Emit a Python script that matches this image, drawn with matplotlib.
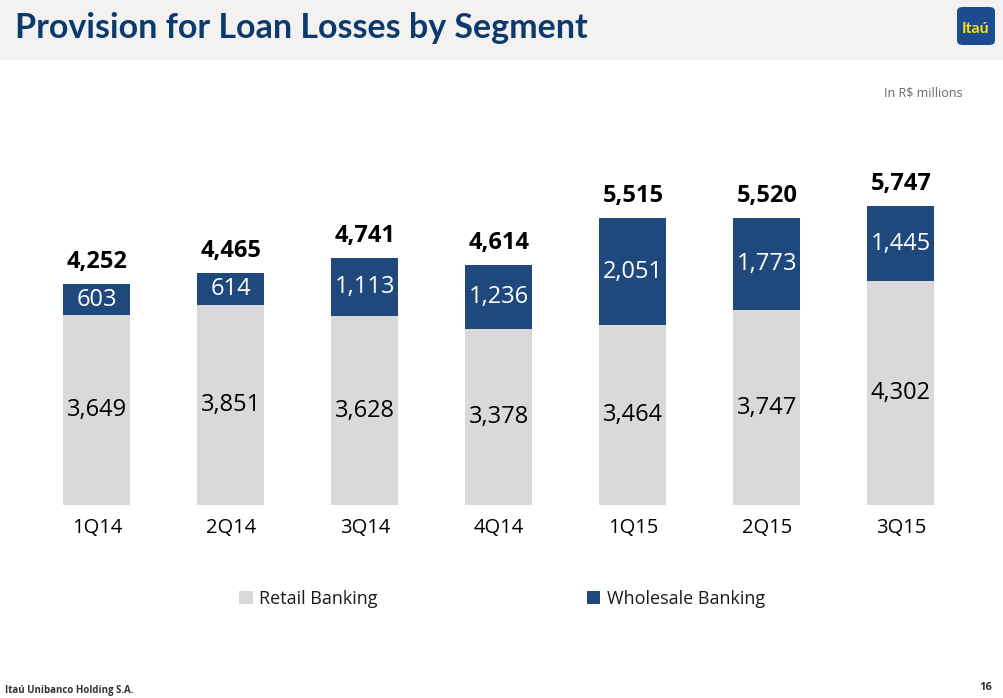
import matplotlib.pyplot as plt
from matplotlib.patches import FancyBboxPatch, Rectangle
import numpy as np

quarters = ["1Q14", "2Q14", "3Q14", "4Q14", "1Q15", "2Q15", "3Q15"]
retail = [3649, 3851, 3628, 3378, 3464, 3747, 4302]
wholesale = [603, 614, 1113, 1236, 2051, 1773, 1445]
totals = [4252, 4465, 4741, 4614, 5515, 5520, 5747]

GRAY = "#d9d9d9"
BLUE = "#1f497d"
NAVY = "#0a3a6e"

plt.rcParams['font.family'] = ['Open Sans', 'DejaVu Sans']

W, H = 1004, 698
fig = plt.figure(figsize=(W / 100, H / 100), dpi=100)
fig.patch.set_facecolor("white")

# header band
fig.patches.append(Rectangle((0, 1 - 60 / H), 1, 60 / H, transform=fig.transFigure,
                             facecolor="#f3f2f1", edgecolor="none", zorder=0))
fig.text(15 / W, 1 - 28 / H, "Provision for Loan Losses by Segment", fontsize=24.5,
         fontweight="bold", color=NAVY, va="center", ha="left", family="Lato")

# logo
fig.patches.append(FancyBboxPatch((957 / W, 1 - 45 / H), 38 / W, 38 / H,
                                  boxstyle="round,pad=0,rounding_size=0.006",
                                  transform=fig.transFigure, facecolor="#1d4b8f",
                                  edgecolor="none", zorder=2))
fig.text(976 / W, 1 - 29 / H, "Itaú", fontsize=11.5, fontweight="bold", color="#f5e400",
         ha="center", va="center", zorder=3, family="Lato")

fig.text(963 / W, 1 - 93 / H, "In R$ millions", fontsize=9, color="#666666",
         ha="right", va="center")

# chart axes: bar centre px = 97 + 134 i, zero at y=505, 0.052 px per unit
px_per = 0.052
ax = fig.add_axes([30 / W, (H - 505) / H, (967 - 30) / W, 405 / H])
x = np.arange(len(quarters))
ax.set_xlim(-0.5, (967 - 97) / 134)
ax.set_ylim(0, 405 / px_per)

ax.bar(x, retail, width=0.5, color=GRAY, label="Retail Banking")
ax.bar(x, wholesale, width=0.5, bottom=retail, color=BLUE, label="Wholesale Banking")

for i in x:
    ax.text(i, retail[i] / 2, f"{retail[i]:,}", ha="center", va="center",
            fontsize=17, fontweight="medium", color="black")
    ax.text(i, retail[i] + wholesale[i] / 2, f"{wholesale[i]:,}", ha="center",
            va="center", fontsize=17, fontweight="medium", color="white")
    ax.text(i, totals[i] + 22 / px_per, f"{totals[i]:,}", ha="center", va="center",
            fontsize=17, fontweight="bold", color="black")

ax.set_xticks(x)
ax.set_xticklabels(quarters, fontsize=14.5)
ax.tick_params(axis="x", length=0, pad=9)
ax.set_yticks([])
for s in ax.spines.values():
    s.set_visible(False)

leg = fig.legend(loc="center", bbox_to_anchor=(502 / W, 1 - 599 / H), ncol=2,
                 frameon=False, fontsize=13, handlelength=0.75, handleheight=0.75,
                 handletextpad=0.35, columnspacing=11.6)
for t in leg.get_texts():
    t.set_color("#1a1a1a")

fig.text(5 / W, 1 - 690 / H, "Itaú Unibanco Holding S.A.", fontsize=7,
         fontweight="bold", color="#333333", ha="left", va="center")
fig.text(992 / W, 1 - 688 / H, "16", fontsize=8, fontweight="bold", color="#333333",
         ha="right", va="center")

fig.savefig("out.png", dpi=100)
